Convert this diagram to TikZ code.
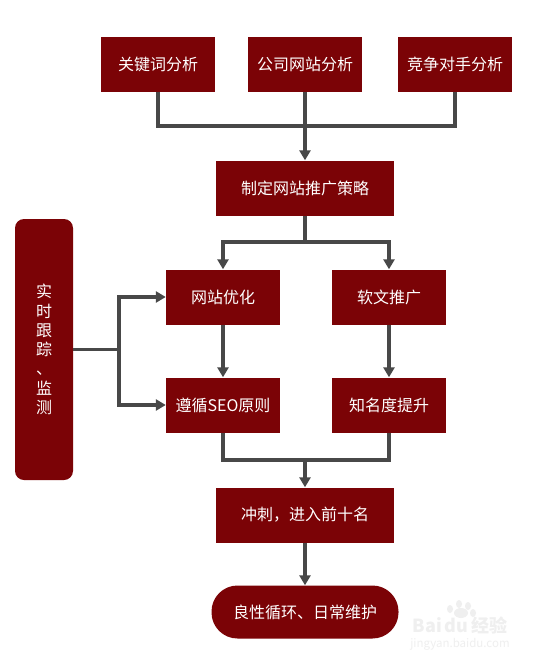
\documentclass[tikz,border=0pt]{standalone}
\usepackage{fontspec}
\setmainfont{Noto Sans CJK SC}
\usetikzlibrary{arrows.meta}
\definecolor{boxred}{HTML}{7B0306}
\definecolor{linegray}{HTML}{484848}
\definecolor{wmark}{HTML}{EFEFEF}
\tikzset{x=1pt,y=-1pt,
 boxn/.style={fill=boxred,text=white,inner sep=0pt,font=\fontsize{16}{19}\selectfont,align=center},
 small/.style={boxn,minimum width=114pt,minimum height=55pt},
 wide/.style={boxn,minimum width=178pt,minimum height=55pt},
 conn/.style={draw=linegray,line width=3.2pt},
 arr/.style={conn,-{Triangle[length=10pt,width=11pt]}},
 wm/.style={text=wmark,inner sep=0pt}}
\begin{document}
\begin{tikzpicture}
\useasboundingbox (0,0) rectangle (538,662);
\fill[white] (0,0) rectangle (538,662);
\node[small] (a) at (158,64.5) {关键词分析};
\node[small] (b) at (305,64.5) {公司网站分析};
\node[small] (c) at (455,64.5) {竞争对手分析};
\node[wide] (d) at (305,188) {制定网站推广策略};
\node[small] (e) at (223,297) {网站优化};
\node[small] (f) at (389,297) {软文推广};
\node[small] (g) at (223,405) {遵循SEO原则};
\node[small] (h) at (389,405) {知名度提升};
\node[wide] (i) at (305,515) {冲刺，进入前十名};
\node[boxn,rounded corners=26pt,minimum width=187pt,minimum height=53pt] (j) at (305,612) {良性循环、日常维护};
\node[boxn,rounded corners=9pt,minimum width=58pt,minimum height=261pt,font=\fontsize{16}{19.3}\selectfont] (k) at (44,349.5) {实\\时\\跟\\踪\\、\\监\\测};
\coordinate (t1) at (305,126);
\coordinate (t2) at (305,242);
\coordinate (t3) at (305,460);
\coordinate (s1) at (119,349.5);
\draw[conn] (a.south) |- (t1) (c.south) |- (t1);
\draw[arr] (b.south) -- (d.north);
\draw[conn] (d.south) -- (t2);
\draw[arr] (t2) -| (e.north);
\draw[arr] (t2) -| (f.north);
\draw[arr] (e.south) -- (g.north);
\draw[arr] (f.south) -- (h.north);
\draw[conn] (g.south) |- (t3) (h.south) |- (t3);
\draw[arr] (t3) -- (i.north);
\draw[arr] (i.south) -- (j.north);
\draw[conn] (k.east |- s1) -- (s1);
\draw[arr] (s1) |- (e.west);
\draw[arr] (s1) |- (g.west);
\node[wm,font=\fontsize{18}{18}\selectfont\bfseries] (w1) at (460,625) {Bai\,du\,经验};
\node[wm,font=\fontsize{11.5}{12}\selectfont] (w2) at (460,644) {jingyan.baidu.com};
\fill[wmark] (450,609) ellipse (3pt and 4pt) (459,604) ellipse (3pt and 4pt) (468,606) ellipse (3pt and 4pt) (473,613) ellipse (3pt and 4pt) (461,613) ellipse (7pt and 5pt);
\end{tikzpicture}
\end{document}
